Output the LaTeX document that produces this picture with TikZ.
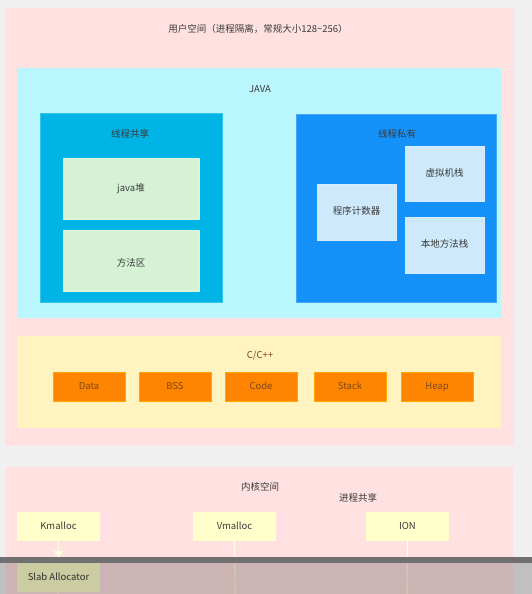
\documentclass[tikz,border=0pt]{standalone}
\usepackage{fontspec}
\setmainfont{Noto Sans CJK SC}
\usetikzlibrary{arrows.meta}
\definecolor{bgc}{HTML}{F0F0F0}
\definecolor{pinkc}{HTML}{FFE1E1}
\definecolor{cyanc}{HTML}{B9F6FD}
\definecolor{sharec}{HTML}{00B4E6}
\definecolor{privc}{HTML}{1591FA}
\definecolor{greenc}{HTML}{D5F2D5}
\definecolor{lbluec}{HTML}{CDE9FB}
\definecolor{creamc}{HTML}{FFF3C0}
\definecolor{orangec}{HTML}{FF8500}
\definecolor{yelc}{HTML}{FFFFCC}
\definecolor{txtc}{HTML}{3A3A3A}
\definecolor{otxtc}{HTML}{7A4A1A}
\tikzset{
  area/.style={anchor=north west, inner sep=0pt, outer sep=0pt},
  lbl/.style={text=txtc, font=\fontsize{9.5}{11}\selectfont, inner sep=0pt},
  inbox/.style={anchor=north west, inner sep=0pt, outer sep=0pt, text=txtc, font=\fontsize{9.5}{11}\selectfont, text height=7pt, text depth=2pt},
  obox/.style={inbox, fill=orangec, draw=orange!70!yellow, line width=0.6pt, text=otxtc, minimum width=72pt, minimum height=29pt},
  kbox/.style={inbox, fill=yelc, minimum width=83pt, minimum height=29pt},
  kline/.style={draw=yelc!60!white, line width=1.2pt}
}
\begin{document}
\begin{tikzpicture}[x=1pt,y=-1pt]
\fill[bgc] (0,0) rectangle (532,594);
\useasboundingbox (0,0) rectangle (532,594);
% user space
\node[area, fill=pinkc, minimum width=509pt, minimum height=438pt] (user) at (5,8) {};
\node[lbl] (userlbl) at (258,29) {用户空间（进程隔离，常规大小128\textasciitilde256）};
% JAVA
\node[area, fill=cyanc, minimum width=484pt, minimum height=250pt] (java) at (17,68) {};
\node[lbl] (javalbl) at (260,89) {JAVA};
\node[area, fill=sharec, draw=sharec!80!white, minimum width=182pt, minimum height=189pt] (share) at (40,113) {};
\node[lbl] (sharelbl) at (130,134) {线程共享};
\node[inbox, fill=greenc, draw=greenc!80!white, minimum width=136pt, minimum height=61pt] (heap) at (63,158) {java堆};
\node[inbox, fill=greenc, draw=greenc!80!white, minimum width=136pt, minimum height=61pt] (method) at (63,230) {\raisebox{-3pt}{方法区}};
\node[area, fill=privc, draw=privc!80!white, minimum width=200pt, minimum height=188pt] (priv) at (296,114) {};
\node[lbl] (privlbl) at (397,134) {线程私有};
\node[inbox, fill=lbluec, draw=lbluec!80!white, minimum width=79pt, minimum height=56pt] (pc) at (317,184) {程序计数器};
\node[inbox, fill=lbluec, draw=lbluec!80!white, minimum width=79pt, minimum height=55pt] (vmstack) at (405,146) {虚拟机栈};
\node[inbox, fill=lbluec, draw=lbluec!80!white, minimum width=79pt, minimum height=56pt] (nstack) at (405,217) {本地方法栈};
% C/C++
\node[area, fill=creamc, minimum width=484pt, minimum height=92pt] (cpp) at (17,336) {};
\node[lbl, text=otxtc] (cpplbl) at (260,356) {C/C++};
\node[obox] (data) at (53,372) {Data};
\node[obox] (bss) at (139,372) {BSS};
\node[obox] (code) at (225,372) {Code};
\node[obox] (stack) at (314,372) {Stack};
\node[obox] (cheap) at (401,372) {Heap};
% kernel space
\node[area, fill=pinkc, minimum width=507pt, minimum height=128pt] (kernel) at (6,467) {};
\node[lbl] (kernlbl) at (260,487) {内核空间};
\node[lbl] (sharedlbl) at (358,498) {进程共享};
\node[kbox] (kmalloc) at (17,512) {Kmalloc};
\node[kbox] (vmalloc) at (193,512) {Vmalloc};
\node[kbox] (ion) at (366,512) {ION};
\node[kbox] (slab) at (17,563) {Slab Allocator};
\coordinate (vend) at (235,594);
\coordinate (iend) at (407,594);
\draw[kline, shorten >=5pt, -{Triangle[width=9pt,length=7pt]}] (kmalloc) -- (slab);
\draw[kline] (vmalloc.south) -- (vend);
\draw[kline] (ion.south) -- (iend);
\draw[kline] (slab.south) -- (58,594);
% screen overlay
\fill[black, opacity=0.2] (0,557) rectangle (532,594);
\fill[gray!75!black!90] (0,557) rectangle (532,563);
\end{tikzpicture}
\end{document}
